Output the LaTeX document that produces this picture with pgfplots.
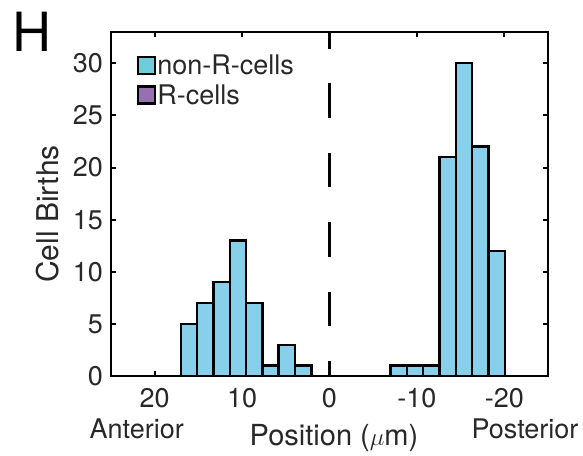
\documentclass[border=0pt]{standalone}
\usepackage{pgfplots}
\pgfplotsset{compat=1.18}
\usepackage{fontspec}
\setmainfont{TeX Gyre Heros}
\definecolor{barblue}{RGB}{135,207,234}
\definecolor{legblue}{RGB}{108,205,221}
\definecolor{rpurple}{RGB}{150,112,176}
\definecolor{txtgray}{RGB}{40,40,40}
\begin{document}
\begin{tikzpicture}
\begin{axis}[
    at={(0,0)}, anchor=south west,
    scale only axis,
    width=437pt, height=344pt,
    x dir=reverse,
    xmin=-25, xmax=25,
    ymin=0, ymax=33,
    xtick={-20,-10,0,10,20},
    xticklabels={{-20},{-10},0,10,20},
    ytick={0,5,10,15,20,25,30},
    tick align=inside,
    major tick length=5pt,
    tick style={line width=2pt, black},
    axis line style={line width=2.4pt},
    /pgf/number format/assume math mode=true,
    ticklabel style={font=\fontsize{27}{31}\selectfont, text=txtgray},
    xticklabel style={anchor=base, inner sep=0pt, yshift=-31pt},
    yticklabel style={anchor=east, inner sep=0pt, xshift=-8pt},
    legend style={at={(0,1)}, anchor=north west, xshift=26pt, yshift=-22pt,
        draw=none, fill=none, inner sep=0pt,
        font=\fontsize{27}{31}\selectfont, text=txtgray,
        row sep=6pt,
        nodes={inner sep=1pt},
        cells={anchor=west}},
    legend image code/.code={\draw[#1, line width=2.2pt] (0pt,-8.5pt) rectangle (17pt,8.5pt);},
]
\addplot[ybar, bar width=1.865, bar shift=0pt, fill=barblue, draw=black, line width=2.4pt,
    forget plot]
  coordinates {(16.07,5)(14.20,7)(12.34,9)(10.47,13)(8.61,7)(6.74,1)(4.88,3)(3.01,1)
               (-7.93,1)(-9.80,1)(-11.66,1)(-13.53,21)(-15.39,30)(-17.26,22)(-19.13,12)};
\addlegendimage{fill=legblue, draw=black}
\addlegendentry{non-R-cells}
\addlegendimage{fill=rpurple, draw=black}
\addlegendentry{R-cells}
\draw[line width=2.4pt, black, dash pattern=on 34.7pt off 34.7pt, dash phase=19.7pt]
  (axis cs:0,0) -- (axis cs:0,33);
\end{axis}
\node at (-79pt,344pt) {\fontsize{54}{60}\selectfont H};
\node[rotate=90, text=txtgray] at (-63pt,162pt) {\fontsize{30}{34}\selectfont Cell Births};
\node[anchor=base, text=txtgray] at (25.7pt,-62pt) {\fontsize{27}{31}\selectfont Anterior};
\node[anchor=base, text=txtgray] at (414pt,-62pt) {\fontsize{27}{31}\selectfont Posterior};
\node[anchor=base, text=txtgray] at (223pt,-69pt) {\fontsize{29}{33}\selectfont Position ($\mu$m)};
\pgfresetboundingbox
\path (-111pt,-79pt) rectangle (472pt,376pt);
\end{tikzpicture}
\end{document}
